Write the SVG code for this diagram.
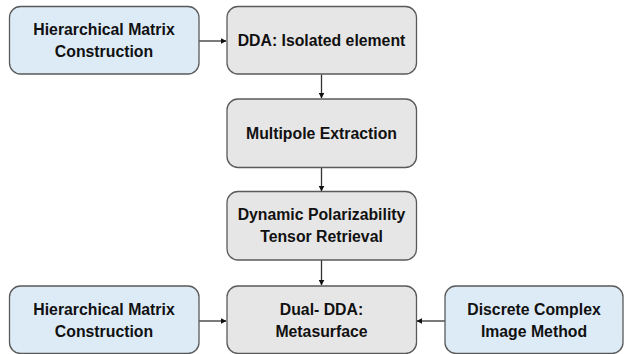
<svg xmlns="http://www.w3.org/2000/svg" width="628" height="354" viewBox="0 0 628 354">
<defs>
<style>
.blue{fill:#DDEBF7;stroke:#5a5a5a;stroke-width:1.3}
.gray{fill:#E7E6E6;stroke:#5a5a5a;stroke-width:1.3}
.t{font-family:"Liberation Sans",Arial,sans-serif;font-weight:bold;font-size:15.8px;fill:#111;text-anchor:middle}
.c{stroke:#333;stroke-width:1.3;fill:none;marker-end:url(#ah)}
</style>
<marker id="ah" viewBox="0 0 10 10" refX="9" refY="5" markerWidth="6" markerHeight="6" orient="auto" markerUnits="userSpaceOnUse">
<path d="M0,0 L10,5 L0,10 z" fill="#111"/>
</marker>
</defs>
<rect width="628" height="354" fill="#fff"/>
<g id="connectors">
<line class="c" x1="199" y1="41" x2="226" y2="41"/>
<line class="c" x1="321.5" y1="74.5" x2="321.5" y2="98"/>
<line class="c" x1="321.5" y1="168" x2="321.5" y2="191"/>
<line class="c" x1="321.5" y1="260" x2="321.5" y2="285"/>
<line class="c" x1="199" y1="321" x2="226" y2="321"/>
<line class="c" x1="445" y1="321" x2="417" y2="321"/>
</g>
<g id="hm-top">
<rect class="blue" x="9.5" y="6.5" width="189.5" height="67.5" rx="11"/>
<text class="t" x="104" y="35">Hierarchical Matrix</text>
<text class="t" x="104" y="57">Construction</text>
</g>
<g id="dda">
<rect class="gray" x="227" y="6.5" width="189.5" height="67.5" rx="11"/>
<text class="t" x="321.5" y="46">DDA: Isolated element</text>
</g>
<g id="multipole">
<rect class="gray" x="227" y="99" width="189.5" height="68.5" rx="11"/>
<text class="t" x="321.5" y="139">Multipole Extraction</text>
</g>
<g id="tensor">
<rect class="gray" x="227" y="191.5" width="189.5" height="68.5" rx="11"/>
<text class="t" x="321.5" y="220">Dynamic Polarizability</text>
<text class="t" x="321.5" y="242">Tensor Retrieval</text>
</g>
<g id="hm-bottom">
<rect class="blue" x="9.5" y="286" width="189.5" height="67.5" rx="11"/>
<text class="t" x="104" y="315">Hierarchical Matrix</text>
<text class="t" x="104" y="337">Construction</text>
</g>
<g id="dual-dda">
<rect class="gray" x="227" y="286" width="189.5" height="67.5" rx="11"/>
<text class="t" x="321.5" y="315">Dual- DDA:</text>
<text class="t" x="321.5" y="337">Metasurface</text>
</g>
<g id="dcim">
<rect class="blue" x="445" y="286" width="178" height="67.5" rx="11"/>
<text class="t" x="534" y="315">Discrete Complex</text>
<text class="t" x="534" y="337">Image Method</text>
</g>
</svg>
